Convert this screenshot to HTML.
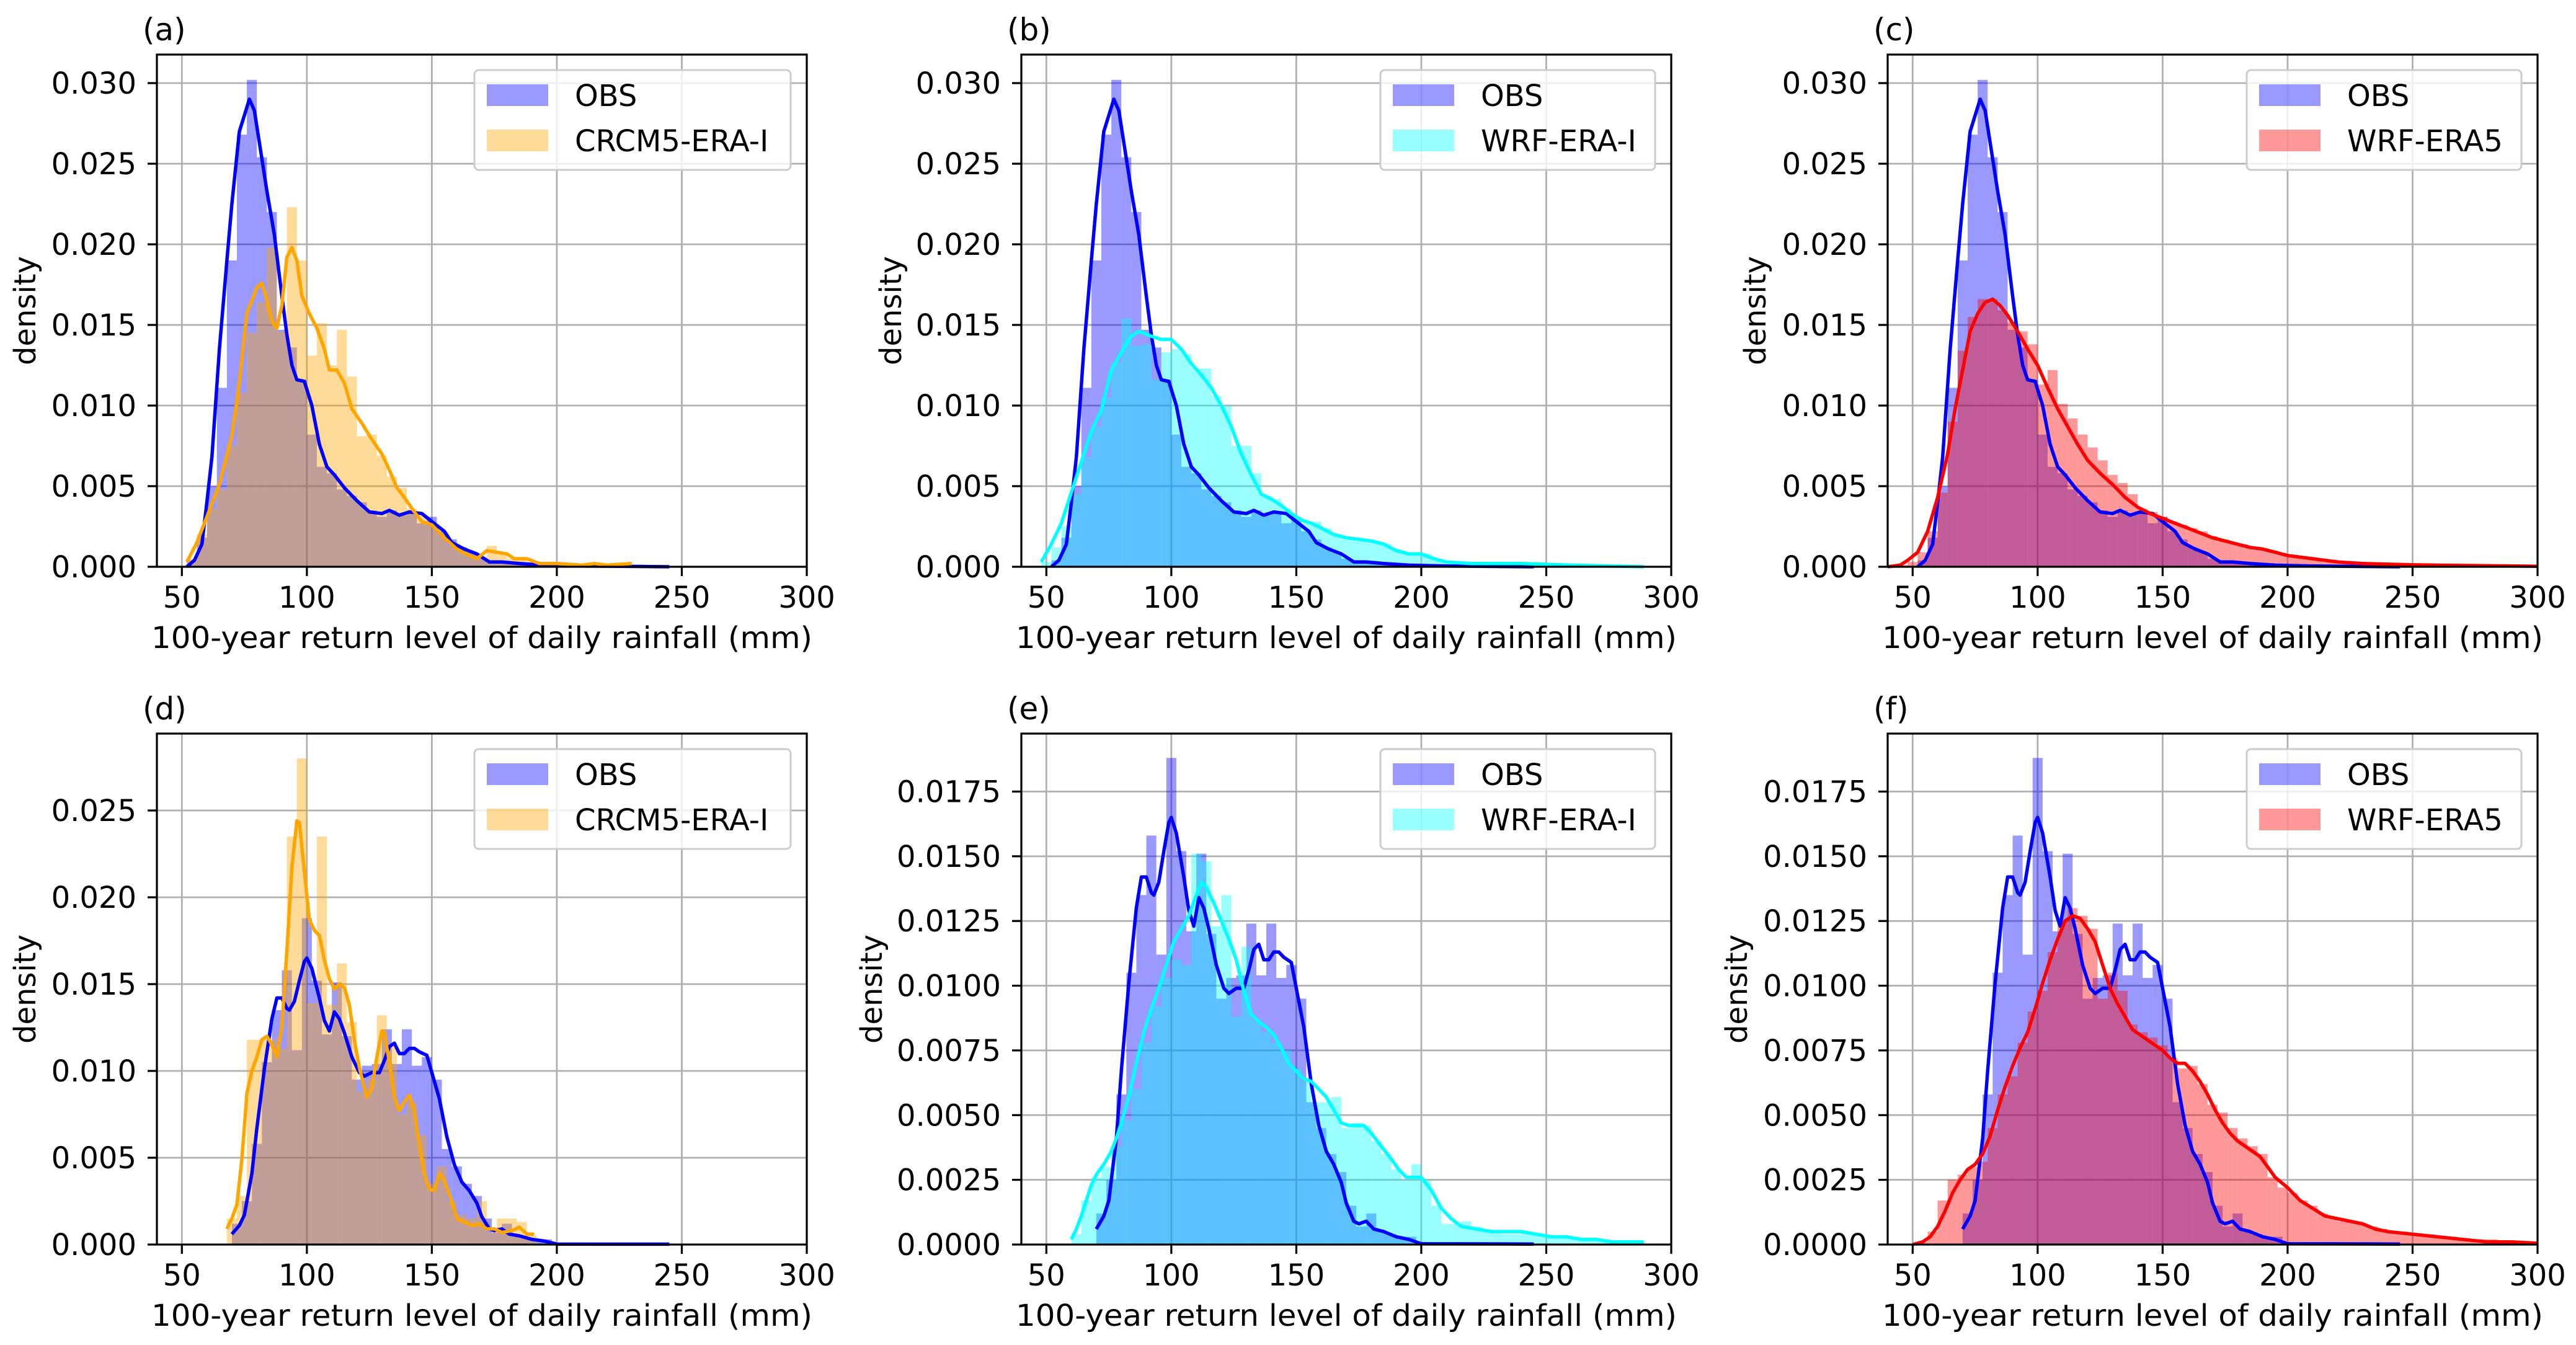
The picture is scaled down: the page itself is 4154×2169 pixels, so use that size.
<!DOCTYPE html>
<html><head><meta charset="utf-8"><style>
html,body{margin:0;padding:0;background:#fff;}
svg{display:block;font-family:"DejaVu Sans","Liberation Sans",sans-serif;}
</style></head><body>
<svg id="fig" width="4154" height="2169" viewBox="0 0 4154 2169" xmlns="http://www.w3.org/2000/svg"></svg>
<script>
// ---------- data ----------
const xTicks = [50,100,150,200,250,300];
const yTicksTop = [0,0.005,0.010,0.015,0.020,0.025,0.030];
const yTicksD = [0,0.005,0.010,0.015,0.020,0.025];
const yTicksEF = [0,0.0025,0.005,0.0075,0.010,0.0125,0.015,0.0175];
const binWidth = 4;

// OBS top row
const obs1KdeX = [52,55,58,60,62,65,68,70,73,75,77,79,81,84,87,90,92,94,96,99,102,105,108,111,115,120,125,130,133,137,141,146,150,155,158,163,168,173,178,185,195,210,245];
const obs1KdeY = [0,0.0004,0.0014,0.004,0.0068,0.0135,0.019,0.0225,0.027,0.028,0.029,0.0283,0.0263,0.0233,0.0206,0.0168,0.0144,0.0125,0.0116,0.0115,0.01,0.0076,0.0062,0.0057,0.0049,0.0041,0.0034,0.0033,0.0035,0.0032,0.0034,0.0033,0.0028,0.0022,0.0015,0.0011,0.0008,0.0003,0.0003,0.0002,0.0001,0.00005,0];
const obs1HistStart = 52;
const obs1Hist = [0.0004,0.0018,0.005,0.0111,0.019,0.0268,0.0302,0.0254,0.022,0.0147,0.0136,0.0116,0.0082,0.0062,0.0058,0.0048,0.0044,0.004,0.0035,0.0031,0.0035,0.0032,0.0034,0.0027,0.0031,0.0022,0.0017,0.0012,0.0009,0.0005,0.0003,0.0003,0.0002,0.0002,0.0001,0.0001,0.0001,0.00005];

// CRCM5 top row
const crcm1KdeX = [52,56,60,65,70,73,76,80,82,84,86,88,90,92,94,96,98,101,104,107,109,112,115,118,122,126,130,133,136,139,143,146,150,155,160,165,168,172,176,180,183,188,193,200,210,215,220,230];
const crcm1KdeY = [0.0003,0.0015,0.0031,0.0051,0.0081,0.0114,0.0157,0.0173,0.0176,0.0165,0.0152,0.0148,0.0162,0.0192,0.0198,0.019,0.0168,0.0157,0.0148,0.0135,0.0122,0.0122,0.0114,0.0098,0.0089,0.0079,0.007,0.006,0.0049,0.0043,0.0034,0.0028,0.0026,0.0018,0.0011,0.0007,0.0005,0.001,0.0009,0.0008,0.0005,0.0005,0.0002,0.0002,0.0001,0.0002,0.0001,0.0002];
const crcm1HistStart = 52;
const crcm1Hist = [0.0005,0.002,0.0036,0.0048,0.0075,0.0108,0.0145,0.0164,0.0198,0.0146,0.0223,0.019,0.0131,0.0151,0.0125,0.0147,0.0118,0.0081,0.0082,0.0069,0.0056,0.0049,0.0036,0.0032,0.0026,0.0022,0.0013,0.0009,0.0008,0.0006,0.0013,0.0008,0.0005,0.0006,0.0003,0.0002,0.0002,0.0001,0.0002,0.0001,0.0002,0.0001,0.0001,0.0002];

// WRF-ERA-I top row
const wrfi1KdeX = [48,52,56,60,64,68,72,76,80,84,87,92,96,100,104,108,112,116,120,124,128,132,136,140,144,148,152,156,160,165,170,175,180,185,190,195,200,205,210,220,240,260,289];
const wrfi1KdeY = [0.0003,0.0014,0.0027,0.0046,0.0065,0.0084,0.0097,0.0122,0.0133,0.0143,0.0146,0.0143,0.0141,0.0141,0.0135,0.0126,0.0119,0.0111,0.01,0.0087,0.007,0.0057,0.0045,0.0042,0.0038,0.0033,0.0029,0.0027,0.0024,0.002,0.0018,0.0017,0.0016,0.0014,0.001,0.0008,0.0008,0.0005,0.0003,0.0002,0.0002,0.0001,0];
const wrfi1HistStart = 48;
const wrfi1Hist = [0.0003,0.0012,0.0025,0.0045,0.0068,0.0087,0.0105,0.0127,0.0154,0.0137,0.0138,0.0116,0.0133,0.0135,0.0132,0.0123,0.0123,0.0106,0.01,0.0075,0.0075,0.0058,0.0044,0.0042,0.0036,0.0031,0.0027,0.0028,0.0024,0.002,0.0018,0.0017,0.0017,0.0015,0.0014,0.0011,0.0009,0.0008,0.0008,0.0005,0.0003,0.0003,0.0002,0.0002,0.0002,0.0002,0.0002,0.0002,0.0001,0.0001,0.0001,0.0001,0.0001,0.0001,0.0001,0.0001,0.0001,0.0001,0.0001,0.0001];

// WRF-ERA5 top row
const era51KdeX = [40,45,48,52,56,60,64,67,70,73,76,79,82,85,88,92,96,100,104,108,112,116,120,125,130,135,140,145,150,155,160,165,170,175,180,185,190,195,200,210,220,230,250,270,300];
const era51KdeY = [0,0.0001,0.0004,0.0009,0.0022,0.0043,0.007,0.0098,0.0122,0.0146,0.0157,0.0164,0.0166,0.0162,0.0156,0.0146,0.0135,0.0125,0.0111,0.0098,0.0087,0.0076,0.0066,0.0058,0.0051,0.0043,0.0037,0.0033,0.003,0.0027,0.0024,0.0021,0.0018,0.0016,0.0014,0.0012,0.0011,0.0009,0.0007,0.0005,0.0003,0.0002,0.00012,0.00008,0.00003];
const era51HistStart = 44;
const era51Hist = [0.0001,0.0003,0.0009,0.0022,0.0046,0.009,0.0134,0.0155,0.0166,0.0166,0.0159,0.0152,0.0146,0.0138,0.0113,0.0122,0.0101,0.0092,0.0082,0.0074,0.0066,0.0057,0.0052,0.0045,0.0036,0.0034,0.0031,0.0028,0.0026,0.0024,0.0022,0.0019,0.0017,0.0015,0.0014,0.0012,0.0011,0.001,0.0008,0.0007,0.0006,0.0005,0.0004,0.0004,0.0003,0.0003,0.0003,0.0002,0.0002,0.0002,0.0002,0.00015,0.00015,0.0001,0.0001,0.0001,0.0001,0.0001,0.0001,0.0001,0.0001,0.0001,0.00005,0.00005];

// OBS bottom row
const obs2KdeX = [70,73,75,78,80,83,86,88,90,92,93,95,97,99,100,102,105,107,109,111,113,115,118,121,123,126,129,131,133,135,137,139,141,143,145,148,150,153,156,159,162,165,168,170,173,175,178,181,185,190,195,200,245];
const obs2KdeY = [0.0006,0.0011,0.0017,0.0041,0.0067,0.0101,0.013,0.0142,0.0142,0.0136,0.0135,0.014,0.0152,0.0163,0.0165,0.0159,0.0142,0.0129,0.0123,0.0134,0.013,0.0122,0.0108,0.0099,0.0097,0.0099,0.0099,0.0106,0.0114,0.0116,0.011,0.011,0.0113,0.0113,0.0111,0.0109,0.0099,0.0084,0.0062,0.0046,0.0036,0.0031,0.0024,0.0016,0.0009,0.0008,0.0009,0.0006,0.0005,0.0003,0.0002,0.00003,0.00002];
const obs2HistStart = 70;
const obs2Hist = [0.0012,0.0025,0.0058,0.0105,0.0135,0.0158,0.0112,0.0188,0.0152,0.0121,0.0151,0.012,0.0095,0.0103,0.0104,0.0124,0.0104,0.0124,0.0103,0.0108,0.0095,0.0055,0.0045,0.0035,0.0028,0.0015,0.0007,0.0012,0.0005,0.0004,0.0003,0.0003,0.0001];

// CRCM5 bottom row
const crcm2KdeX = [68,70,72,74,76,78,80,82,84,86,88,90,92,94,96,97,99,101,103,105,107,109,111,113,115,117,119,121,123,124,126,128,130,131,133,135,137,139,141,143,145,147,149,151,153,155,157,160,163,166,169,172,175,178,182,185,188,191];
const crcm2KdeY = [0.0009,0.0015,0.0023,0.0049,0.0087,0.01,0.0108,0.0118,0.012,0.0115,0.0108,0.0125,0.0169,0.0217,0.0244,0.0243,0.0215,0.0187,0.0181,0.0178,0.0164,0.0153,0.0147,0.015,0.0148,0.0138,0.0118,0.0102,0.009,0.0085,0.009,0.0108,0.0123,0.0122,0.0105,0.0085,0.0077,0.0082,0.0086,0.0077,0.0057,0.0041,0.0032,0.0031,0.0041,0.0037,0.0029,0.0015,0.0013,0.0011,0.0012,0.0009,0.0009,0.0007,0.0008,0.001,0.0006,0.0006];
const crcm2HistStart = 68;
const crcm2Hist = [0.0015,0.0028,0.0118,0.0118,0.0118,0.0113,0.0235,0.028,0.0139,0.0235,0.0138,0.0162,0.0128,0.0088,0.0095,0.0132,0.0115,0.0075,0.0082,0.0063,0.0035,0.0045,0.0025,0.0017,0.0015,0.0025,0.0007,0.0015,0.0015,0.0013,0.0005];

// WRF-ERA-I bottom row
const wrfi2KdeX = [60,62,64,66,68,70,73,76,78,80,83,86,89,92,95,98,101,104,107,110,112,114,117,120,123,126,129,132,135,138,141,144,147,150,153,156,159,162,165,168,171,174,177,180,184,188,191,194,197,200,204,208,212,216,222,228,234,240,246,252,258,264,270,276,289];
const wrfi2KdeY = [0.0002,0.0006,0.0011,0.0017,0.0023,0.0027,0.0031,0.0036,0.0041,0.0047,0.0057,0.007,0.0082,0.0091,0.0099,0.0108,0.0117,0.0122,0.0127,0.0135,0.014,0.0138,0.0132,0.0125,0.0118,0.011,0.0098,0.0089,0.0086,0.0084,0.0081,0.0076,0.007,0.0067,0.0064,0.0063,0.006,0.0057,0.0052,0.0047,0.0046,0.0046,0.0046,0.0043,0.0038,0.0033,0.0029,0.0026,0.0026,0.0026,0.0021,0.0014,0.001,0.0007,0.0006,0.0005,0.0005,0.0005,0.0004,0.0003,0.0003,0.0002,0.0002,0.0001,0.0001];
const wrfi2HistStart = 60;
const wrfi2Hist = [0.0004,0.0017,0.0026,0.003,0.0038,0.0048,0.006,0.0078,0.0092,0.0103,0.011,0.0108,0.0151,0.0148,0.0123,0.0135,0.0088,0.0115,0.0087,0.0082,0.0078,0.0075,0.0068,0.0063,0.0055,0.0055,0.0057,0.0045,0.0047,0.0046,0.004,0.0035,0.0029,0.0025,0.0031,0.0025,0.0015,0.0008,0.0008,0.0009,0.0007,0.0005,0.0005,0.0004,0.0004,0.0005,0.0004,0.0003,0.0003,0.0003,0.0003,0.0002,0.0002,0.0002,0.0001,0.0001,0.0001];

// WRF-ERA5 bottom row
const era52KdeX = [50,54,57,60,63,66,69,72,75,78,81,84,87,90,93,96,99,102,105,108,111,114,117,120,123,126,129,132,135,138,141,144,147,150,153,156,159,162,165,168,171,174,177,180,183,186,189,192,195,200,205,210,215,220,225,230,235,240,250,260,270,280,290,300];
const era52KdeY = [0,0.0001,0.0003,0.0007,0.0013,0.002,0.0025,0.0029,0.0031,0.0035,0.0042,0.0052,0.0061,0.0069,0.0076,0.0082,0.0091,0.0101,0.011,0.0118,0.0125,0.0127,0.0126,0.0122,0.0117,0.0108,0.0099,0.0093,0.0088,0.0083,0.0081,0.0079,0.0077,0.0075,0.0072,0.007,0.007,0.0067,0.0063,0.0058,0.0052,0.0047,0.0043,0.004,0.0038,0.0036,0.0034,0.003,0.0026,0.0022,0.0017,0.0014,0.0011,0.001,0.0009,0.0008,0.0006,0.0005,0.0004,0.0003,0.0002,0.0001,0.0001,0.00005];
const era52HistStart = 52;
const era52Hist = [0.0001,0.0005,0.0017,0.0025,0.0027,0.003,0.0032,0.0045,0.0058,0.0065,0.0078,0.009,0.0098,0.0113,0.0125,0.013,0.0127,0.0122,0.0095,0.0105,0.0098,0.0085,0.0082,0.008,0.0077,0.0072,0.0068,0.0069,0.0062,0.0054,0.0051,0.0045,0.0041,0.0038,0.0035,0.0026,0.0022,0.002,0.0017,0.0015,0.0012,0.001,0.0009,0.0009,0.0008,0.0007,0.0006,0.0005,0.0005,0.0004,0.0004,0.0003,0.0003,0.0003,0.0002,0.0002,0.0002,0.0002,0.0001,0.0001,0.0001,0.0001];

// ---------- drawing ----------
const NS = "http://www.w3.org/2000/svg";
const svg = document.getElementById('fig');
function mk(tag, parent){ const e = document.createElementNS(NS, tag); parent.appendChild(e); return e; }

const panels = [
  {id:'a', left:253, top:88, w:1048, h:826, ymax:0.03177, yt:yTicksTop, dec:3, model:'CRCM5-ERA-I', col:'#ffa500', lw:510,
   oKX:obs1KdeX, oKY:obs1KdeY, oHS:obs1HistStart, oH:obs1Hist, mKX:crcm1KdeX, mKY:crcm1KdeY, mHS:crcm1HistStart, mH:crcm1Hist, ylx:-213},
  {id:'b', left:1647, top:88, w:1048, h:826, ymax:0.03177, yt:yTicksTop, dec:3, model:'WRF-ERA-I', col:'#00ffff', lw:443,
   oKX:obs1KdeX, oKY:obs1KdeY, oHS:obs1HistStart, oH:obs1Hist, mKX:wrfi1KdeX, mKY:wrfi1KdeY, mHS:wrfi1HistStart, mH:wrfi1Hist, ylx:-211},
  {id:'c', left:3044, top:88, w:1048, h:826, ymax:0.03177, yt:yTicksTop, dec:3, model:'WRF-ERA5', col:'#ff0000', lw:443,
   oKX:obs1KdeX, oKY:obs1KdeY, oHS:obs1HistStart, oH:obs1Hist, mKX:era51KdeX, mKY:era51KdeY, mHS:era51HistStart, mH:era51Hist, ylx:-214},
  {id:'d', left:253, top:1183, w:1048, h:824, ymax:0.02943, yt:yTicksD, dec:3, model:'CRCM5-ERA-I', col:'#ffa500', lw:510,
   oKX:obs2KdeX, oKY:obs2KdeY, oHS:obs2HistStart, oH:obs2Hist, mKX:crcm2KdeX, mKY:crcm2KdeY, mHS:crcm2HistStart, mH:crcm2Hist, ylx:-213},
  {id:'e', left:1647, top:1183, w:1048, h:824, ymax:0.01974, yt:yTicksEF, dec:4, model:'WRF-ERA-I', col:'#00ffff', lw:443,
   oKX:obs2KdeX, oKY:obs2KdeY, oHS:obs2HistStart, oH:obs2Hist, mKX:wrfi2KdeX, mKY:wrfi2KdeY, mHS:wrfi2HistStart, mH:wrfi2Hist, ylx:-242},
  {id:'f', left:3044, top:1183, w:1048, h:824, ymax:0.01974, yt:yTicksEF, dec:4, model:'WRF-ERA5', col:'#ff0000', lw:443,
   oKX:obs2KdeX, oKY:obs2KdeY, oHS:obs2HistStart, oH:obs2Hist, mKX:era52KdeX, mKY:era52KdeY, mHS:era52HistStart, mH:era52Hist, ylx:-244}
];

const XMIN = 40, XMAX = 300;
const FS = 48;

function addText(parent, x, y, str, size, anchor, name){
  const t = mk('text', parent);
  
  
  t.setAttribute('x', x); t.setAttribute('y', y);
  t.setAttribute('font-size', size);
  t.setAttribute('text-anchor', anchor);
  t.setAttribute('fill', '#000');
  t.textContent = str;
  return t;
}

panels.forEach(p => {
  const g = mk('g', svg);
  
  
  const X = v => p.left + (Math.max(v, XMIN) - XMIN) / (XMAX - XMIN) * p.w;
  const Y = v => p.top + p.h - v / p.ymax * p.h;
  const bottom = p.top + p.h;

  const grid = mk('g', g);
  
  
  xTicks.forEach(t => {
    const l = mk('line', grid);
    
    
    l.setAttribute('x1', X(t)); l.setAttribute('x2', X(t));
    l.setAttribute('y1', p.top); l.setAttribute('y2', bottom);
    l.setAttribute('stroke', '#b0b0b0'); l.setAttribute('stroke-width', 2.8);
  });
  p.yt.forEach(t => {
    const l = mk('line', grid);
    
    
    l.setAttribute('x1', p.left); l.setAttribute('x2', p.left + p.w);
    l.setAttribute('y1', Y(t)); l.setAttribute('y2', Y(t));
    l.setAttribute('stroke', '#b0b0b0'); l.setAttribute('stroke-width', 2.8);
  });

  function hist(start, vals, color, name){
    const hg = mk('g', g);
    
    
    vals.forEach((v, i) => {
      const x0 = start + i * binWidth;
      const r = mk('rect', hg);
      
      
      r.setAttribute('x', X(x0)); r.setAttribute('width', Math.max(0, X(x0 + binWidth) - X(x0)));
      r.setAttribute('y', Y(v)); r.setAttribute('height', bottom - Y(v));
      r.setAttribute('fill', color); r.setAttribute('fill-opacity', 0.4);
    });
  }
  hist(p.oHS, p.oH, '#0000ff', 'obs-histogram');
  hist(p.mHS, p.mH, p.col, 'model-histogram');

  function kde(xs, ys, color, name){
    const pl = mk('polyline', g);
    
    
    pl.setAttribute('points', xs.map((x, i) => X(x).toFixed(1) + ',' + Y(ys[i]).toFixed(1)).join(' '));
    pl.setAttribute('fill', 'none'); pl.setAttribute('stroke', color);
    pl.setAttribute('stroke-width', 5.5); pl.setAttribute('stroke-linejoin', 'round');
  }
  kde(p.oKX, p.oKY, '#0000ff', 'obs-kde-line');
  kde(p.mKX, p.mKY, p.col, 'model-kde-line');

  const fr = mk('rect', g);
  
  
  fr.setAttribute('x', p.left); fr.setAttribute('y', p.top);
  fr.setAttribute('width', p.w); fr.setAttribute('height', p.h);
  fr.setAttribute('fill', 'none'); fr.setAttribute('stroke', '#000'); fr.setAttribute('stroke-width', 3.2);

  xTicks.forEach(t => {
    const l = mk('line', g);
    
    
    l.setAttribute('x1', X(t)); l.setAttribute('x2', X(t));
    l.setAttribute('y1', bottom); l.setAttribute('y2', bottom + 15);
    l.setAttribute('stroke', '#000'); l.setAttribute('stroke-width', 3.2);
    addText(g, X(t), bottom + 66, String(t), FS, 'middle', 'x-tick-label');
  });
  p.yt.forEach(t => {
    const l = mk('line', g);
    
    
    l.setAttribute('x1', p.left - 15); l.setAttribute('x2', p.left);
    l.setAttribute('y1', Y(t)); l.setAttribute('y2', Y(t));
    l.setAttribute('stroke', '#000'); l.setAttribute('stroke-width', 3.2);
    addText(g, p.left - 33, Y(t) + 17, t.toFixed(p.dec), FS, 'end', 'y-tick-label');
  });

  const xl = addText(g, p.left + p.w / 2, bottom + 131, '100-year return level of daily rainfall (mm)', FS, 'middle', 'x-axis-title');
  xl.setAttribute('textLength', 1066);
  xl.setAttribute('lengthAdjust', 'spacingAndGlyphs');

  const yl = mk('text', g);
  
  
  yl.setAttribute('transform', `translate(${p.left + p.ylx + 17},${p.top + p.h / 2}) rotate(-90)`);
  yl.setAttribute('font-size', FS); yl.setAttribute('text-anchor', 'middle');
  yl.textContent = 'density';

  addText(g, p.left - 23, p.top - 23, '(' + p.id + ')', 50, 'start', 'panel-label');

  const lg = mk('g', g);
  
  
  const lx = p.left + p.w - 26 - p.lw, ly = p.top + 25;
  const box = mk('rect', lg);
  
  
  box.setAttribute('x', lx); box.setAttribute('y', ly);
  box.setAttribute('width', p.lw); box.setAttribute('height', 161);
  box.setAttribute('rx', 7); box.setAttribute('fill', '#fff'); box.setAttribute('fill-opacity', 0.8);
  box.setAttribute('stroke', '#cccccc'); box.setAttribute('stroke-width', 3);
  [['OBS', '#0000ff', 'legend-entry-obs'], [p.model, p.col, 'legend-entry-model']].forEach((e, i) => {
    const sw = mk('rect', lg);
    
    
    sw.setAttribute('x', lx + 20); sw.setAttribute('y', ly + 23 + i * 73);
    sw.setAttribute('width', 99); sw.setAttribute('height', 35);
    sw.setAttribute('fill', e[1]); sw.setAttribute('fill-opacity', 0.4);
    addText(lg, lx + 162, ly + 58 + i * 73, e[0], FS, 'start', e[2]);
  });
});
</script>
</body></html>
